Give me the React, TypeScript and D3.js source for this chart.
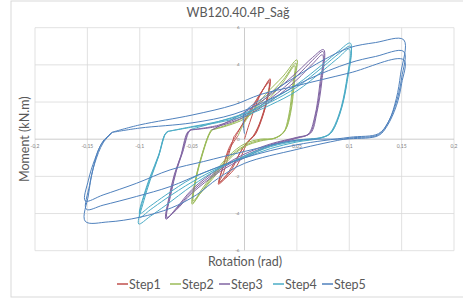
import React from 'react';
import * as d3 from 'd3';

// rotation (rad), moment (kN.m) – each step holds its cycles as point lists
const stepNames = ['Step1', 'Step2', 'Step3', 'Step4', 'Step5'];
const stepColors = ['#C0504D', '#9BBB59', '#8064A2', '#4BACC6', '#4F81BD'];

const step1 = [
  [[0, 0], [0.005, 0.9], [0.012, 2.0], [0.02, 2.9], [0.0245, 3.25], [0.022, 2.2], [0.016, 1.0], [0.01, 0.23],
   [0.004, -0.1], [0, -0.5], [-0.007, -1.4], [-0.018, -2.1], [-0.025, -2.42], [-0.02, -1.8], [-0.014, -0.6], [-0.01, 0.14]],
  [[-0.01, 0.14], [-0.003, 0.7], [0.008, 1.7], [0.017, 2.6], [0.024, 3.15], [0.022, 2.2], [0.015, 0.9], [0.009, 0.2],
   [0.002, -0.2], [-0.004, -0.7], [-0.012, -1.6], [-0.02, -2.15], [-0.0245, -2.35], [-0.021, -1.6], [-0.015, -0.5], [-0.009, 0.1]],
  [[-0.009, 0.1], [-0.002, 0.8], [0.009, 1.9], [0.018, 2.7], [0.0235, 3.05], [0.021, 2.1], [0.014, 0.8], [0.008, 0.15],
   [0.0, -0.35], [-0.008, -1.1], [-0.017, -1.9], [-0.024, -2.3], [-0.02, -1.4], [-0.013, -0.4], [-0.006, 0.2]],
];

const step2 = [
  [[-0.006, 0.2], [0, 0.9], [0.02, 2.4], [0.037, 3.4], [0.05, 4.27], [0.048, 3.2], [0.044, 1.4], [0.039, 0.5], [0.029, 0.05],
   [0.015, 0.0], [0, -0.25], [-0.015, -0.9], [-0.03, -1.9], [-0.042, -2.8], [-0.05, -3.5],
   [-0.047, -2.2], [-0.041, -0.93], [-0.035, 0.14], [-0.032, 0.5]],
  [[-0.032, 0.5], [-0.015, 0.8], [0, 1.2], [0.02, 2.2], [0.037, 3.2], [0.049, 4.1], [0.047, 3.0], [0.043, 1.3], [0.038, 0.4], [0.029, 0.05],
   [0.015, -0.05], [0, -0.35], [-0.015, -1.0], [-0.03, -2.0], [-0.042, -2.9], [-0.049, -3.42],
   [-0.046, -2.1], [-0.04, -0.8], [-0.034, 0.2], [-0.031, 0.5]],
  [[-0.031, 0.5], [-0.015, 0.75], [0, 1.1], [0.02, 2.0], [0.036, 3.0], [0.048, 3.95], [0.046, 2.9], [0.042, 1.2], [0.037, 0.35], [0.028, 0.05],
   [0.015, -0.1], [0, -0.4], [-0.015, -1.1], [-0.03, -2.1], [-0.042, -2.9], [-0.049, -3.3],
   [-0.046, -2.0], [-0.04, -0.7], [-0.034, 0.25], [-0.031, 0.5]],
];

const step3 = [
  [[-0.031, 0.5], [0, 1.45], [0.025, 2.4], [0.05, 3.6], [0.065, 4.4], [0.0755, 4.82], [0.074, 3.2], [0.069, 1.4], [0.063, 0.32], [0.05, 0.1],
   [0.025, -0.25], [0, -0.8], [-0.025, -1.6], [-0.05, -2.7], [-0.065, -3.7], [-0.075, -4.3],
   [-0.072, -3.1], [-0.067, -1.9], [-0.061, -0.93], [-0.055, 0.32], [-0.052, 0.5]],
  [[-0.052, 0.5], [-0.025, 0.75], [0, 1.3], [0.025, 2.2], [0.05, 3.4], [0.065, 4.25], [0.075, 4.72], [0.073, 3.1], [0.068, 1.3], [0.062, 0.3], [0.05, 0.08],
   [0.025, -0.3], [0, -0.9], [-0.025, -1.7], [-0.05, -2.8], [-0.065, -3.75], [-0.0745, -4.25],
   [-0.071, -3.0], [-0.066, -1.8], [-0.06, -0.8], [-0.054, 0.35], [-0.051, 0.5]],
  [[-0.051, 0.5], [-0.025, 0.7], [0, 1.2], [0.025, 2.05], [0.05, 3.2], [0.065, 4.05], [0.0745, 4.54], [0.072, 3.0], [0.067, 1.2], [0.061, 0.28], [0.05, 0.05],
   [0.025, -0.35], [0, -1.0], [-0.025, -1.8], [-0.05, -2.9], [-0.065, -3.8], [-0.074, -4.2],
   [-0.07, -2.9], [-0.065, -1.7], [-0.059, -0.7], [-0.053, 0.4], [-0.05, 0.55]],
];

const step4 = [
  [[-0.05, 0.55], [-0.025, 0.95], [0, 1.4], [0.025, 2.1], [0.05, 2.95], [0.075, 4.05], [0.09, 4.75], [0.101, 5.17],
   [0.098, 3.2], [0.091, 1.4], [0.082, 0.32], [0.074, 0.1],
   [0.05, -0.05], [0.025, -0.35], [0, -0.9], [-0.025, -1.6], [-0.05, -2.5], [-0.075, -3.55], [-0.09, -4.15], [-0.101, -4.56],
   [-0.096, -3.3], [-0.09, -2.2], [-0.082, -0.93], [-0.076, 0.23], [-0.074, 0.41]],
  [[-0.074, 0.41], [-0.05, 0.68], [-0.025, 0.95], [0, 1.35], [0.025, 2.0], [0.05, 2.8], [0.075, 3.9], [0.09, 4.6], [0.101, 5.0],
   [0.098, 3.1], [0.091, 1.35], [0.082, 0.3], [0.073, 0.08],
   [0.05, -0.1], [0.025, -0.4], [0, -0.95], [-0.025, -1.55], [-0.05, -2.3], [-0.075, -3.2], [-0.09, -3.8], [-0.1, -4.2],
   [-0.096, -3.1], [-0.09, -2.1], [-0.082, -0.9], [-0.076, 0.25], [-0.073, 0.42]],
  [[-0.073, 0.42], [-0.05, 0.65], [-0.025, 0.9], [0, 1.25], [0.025, 1.85], [0.05, 2.6], [0.075, 3.7], [0.09, 4.4], [0.1, 4.85],
   [0.097, 3.0], [0.09, 1.3], [0.081, 0.3], [0.072, 0.05],
   [0.05, -0.15], [0.025, -0.5], [0, -1.0], [-0.025, -1.5], [-0.05, -2.1], [-0.075, -3.0], [-0.09, -3.6], [-0.1, -4.0],
   [-0.096, -3.0], [-0.09, -2.0], [-0.082, -0.85], [-0.076, 0.25], [-0.073, 0.4]],
];

const step5 = [
  [[0.0, 0.3], [0.0, 1.4], [0.02, 2.3], [0.05, 3.4], [0.075, 4.25], [0.1, 4.92], [0.125, 5.2], [0.152, 5.35],
   [0.149, 3.5], [0.145, 2.2], [0.138, 1.0], [0.128, 0.25],
   [0.1, 0.05], [0.05, -0.55], [0, -1.3], [-0.025, -2.1], [-0.046, -3.0], [-0.07, -3.7], [-0.1, -4.2], [-0.13, -4.45], [-0.152, -4.42],
   [-0.149, -3.0], [-0.145, -1.7], [-0.138, -0.4], [-0.127, 0.36]],
  [[-0.127, 0.36], [-0.1, 0.6], [-0.05, 0.88], [-0.01, 1.35], [0.03, 2.3], [0.06, 3.2], [0.1, 4.1], [0.125, 4.45], [0.152, 4.72],
   [0.15, 3.3], [0.145, 2.0], [0.137, 0.9], [0.128, 0.3],
   [0.1, 0.1], [0.05, -0.3], [0, -1.0], [-0.039, -1.8], [-0.071, -2.55], [-0.103, -3.08], [-0.135, -3.55], [-0.151, -3.77],
   [-0.148, -2.5], [-0.143, -1.3], [-0.135, -0.2], [-0.126, 0.38]],
  [[-0.126, 0.38], [-0.1, 0.77], [-0.05, 1.3], [-0.01, 1.85], [0.015, 2.4], [0.05, 2.88], [0.1, 3.56], [0.152, 4.27],
   [0.15, 3.0], [0.145, 1.8], [0.136, 0.7], [0.128, 0.2],
   [0.1, 0.02], [0.05, -0.05], [0, -0.66], [-0.039, -1.2], [-0.071, -1.65], [-0.103, -2.37], [-0.135, -3.0], [-0.152, -3.32],
   [-0.149, -2.2], [-0.143, -1.1], [-0.135, -0.1], [-0.127, 0.3]],
];

const steps = [step1, step2, step3, step4, step5];

const xTicks = [-0.2, -0.15, -0.1, -0.05, 0.05, 0.1, 0.15, 0.2];
const xTickLabels = ['-0,2', '-0,15', '-0,1', '-0,05', '0,05', '0,1', '0,15', '0,2'];
const yTicks = [6, 4, 2, 0, -2, -4, -6];

const W = 463;
const H = 302;
const font = 'Lato, "Liberation Sans", sans-serif';

export default function App() {
  const x = d3.scaleLinear().domain([-0.2, 0.2]).range([35, 454]);
  const y = d3.scaleLinear().domain([-6, 6]).range([250.7, 27.7]);

  const line = d3.line<number[]>()
    .x(d => x(d[0]))
    .y(d => y(d[1]))
    .curve(d3.curveCatmullRom.alpha(0.5));

  const gridX = d3.range(-0.2, 0.2001, 0.05);

  return (
    <svg width={W} height={H} style={{ position: 'absolute', left: 0, top: 0, background: '#fff' }}>
      <rect x={11} y={1} width={W} height={296} fill="#fff" stroke="#d9d9d9" />

      {/* grid */}
      {gridX.map((v, i) => (
        <line key={'gx' + i} x1={x(v)} x2={x(v)} y1={y(6)} y2={y(-6)}
          stroke={Math.abs(v) < 1e-9 ? '#bfbfbf' : '#d9d9d9'} strokeWidth={0.8} />
      ))}
      {yTicks.map(v => (
        <line key={'gy' + v} x1={x(-0.2)} x2={x(0.2)} y1={y(v)} y2={y(v)}
          stroke={v === 0 ? '#bfbfbf' : '#d9d9d9'} strokeWidth={0.8} />
      ))}

      {/* tick labels */}
      {xTicks.map((v, i) => (
        <text key={'tx' + i} x={x(v)} y={y(0) + 9} fontSize={5} fill="#7f7f7f"
          textAnchor="middle" fontFamily={font}>{xTickLabels[i]}</text>
      ))}
      {yTicks.map(v => (
        <text key={'ty' + v} x={x(0) - 5} y={y(v) + 1.5} fontSize={4.5} fill="#7f7f7f"
          textAnchor="end" fontFamily={font}>{v}</text>
      ))}

      {/* series */}
      {steps.map((cycles, s) => (
        <path key={stepNames[s]} d={line(cycles.flat()) || ''} fill="none"
          stroke={stepColors[s]} strokeWidth={1} strokeLinejoin="round" />
      ))}

      {/* titles */}
      <text x={238} y={17} textAnchor="middle" fontSize={12.5} fill="#595959" fontFamily={font}>WB120.40.4P_Sağ</text>
      <text x={245} y={265.5} textAnchor="middle" fontSize={12.5} fill="#595959" fontFamily={font}>Rotation (rad)</text>
      <text transform={`translate(29,${y(0)}) rotate(-90)`} textAnchor="middle" fontSize={12.5}
        fill="#595959" fontFamily={font}>Moment (kN.m)</text>

      {/* legend */}
      {stepNames.map((n, i) => {
        const lx = [117, 170, 219, 273, 322][i];
        return (
          <g key={n} transform={`translate(${lx},284)`}>
            <line x1={0} x2={11} y1={0} y2={0} stroke={stepColors[i]} strokeWidth={1.5} />
            <text x={12} y={4.5} fontSize={12.5} fill="#595959" fontFamily={font}>{n}</text>
          </g>
        );
      })}
    </svg>
  );
}
